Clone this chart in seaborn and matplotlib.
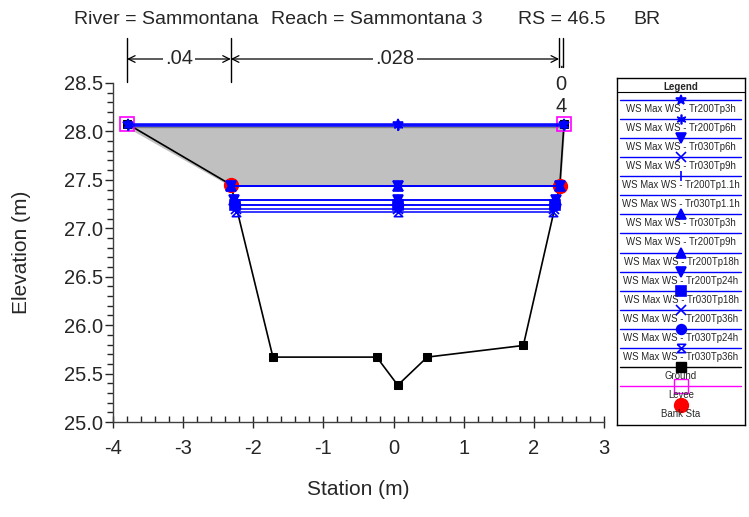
import numpy as np
import pandas as pd
import matplotlib
matplotlib.use("Agg")
import matplotlib.pyplot as plt
from matplotlib.path import Path
from matplotlib.ticker import MultipleLocator, FormatStrFormatter
import seaborn as sns

# data
ground_sta = [-3.80, -2.32, -1.72, -0.24, 0.06, 0.48, 1.85, 2.37, 2.43]
ground_elev = [28.08, 27.45, 25.67, 25.67, 25.38, 25.67, 25.79, 27.44, 28.08]

levee_sta = [-3.80, 2.43]
levee_elev = [28.08, 28.08]

bank_sta = [-2.32, 2.37]
bank_elev = [27.45, 27.44]

deck_sta = [-3.80, -2.32, 2.37, 2.43]
deck_high = [28.05, 28.05, 28.05, 28.05]
deck_low = [28.05, 27.44, 27.44, 28.05]

ws_names = ["Tr200Tp3h", "Tr200Tp6h", "Tr030Tp6h", "Tr030Tp9h", "Tr200Tp1.1h",
            "Tr030Tp1.1h", "Tr030Tp3h", "Tr200Tp9h", "Tr200Tp18h", "Tr200Tp24h",
            "Tr030Tp18h", "Tr200Tp36h", "Tr030Tp24h", "Tr030Tp36h"]
ws_elev = [28.08, 28.07, 27.44, 27.44, 28.06, 27.44, 27.44, 27.44,
           27.29, 27.29, 27.24, 27.20, 27.24, 27.17]
ws_left = [-3.78, -3.78, -2.32, -2.32, -3.78, -2.32, -2.32, -2.32,
           -2.27, -2.27, -2.26, -2.25, -2.26, -2.24]
ws_right = [2.43, 2.43, 2.37, 2.37, 2.43, 2.37, 2.37, 2.37,
            2.31, 2.31, 2.30, 2.29, 2.30, 2.28]
ws_mid = 0.06

hourglass = Path([(-1, 1), (1, 1), (-1, -1), (1, -1), (-1, 1)],
                 [Path.MOVETO, Path.LINETO, Path.LINETO, Path.LINETO, Path.LINETO])
ws_markers = ["*", (6, 2, 0), "v", "x", "|", "", "^", "", "^", "v", "s", "x", "o", hourglass]

n_values = [".04", ".028"]
n_breaks = [-3.80, -2.32, 2.36]
n_right = ".04"
n_right_sta = [2.36, 2.42]

title_parts = ["River = Sammontana", "Reach = Sammontana 3", "RS = 46.5", "BR"]
title_x = [74, 271, 518, 633]

sns.set_style("ticks")
plt.rcParams["font.family"] = ["Liberation Sans", "DejaVu Sans"]
plt.rcParams["axes.unicode_minus"] = False

W, H = 749, 517
fig = plt.figure(figsize=(W / 100, H / 100), dpi=100)
ax = fig.add_axes([113 / W, 1 - 422 / H, (604 - 113) / W, (422 - 83) / H])

BLUE = "#0000FF"

# bridge deck
ax.fill_between(deck_sta, deck_low, deck_high, color="#C0C0C0", zorder=1)
ax.plot([deck_sta[0], deck_sta[-1]], [deck_high[0], deck_high[-1]], color="#808080", lw=1, zorder=1)

# ground
gdf = pd.DataFrame({"station": ground_sta, "elev": ground_elev})
sns.lineplot(data=gdf, x="station", y="elev", sort=False, color="k", lw=1.2,
             marker="s", markersize=6, markeredgecolor="k", ax=ax, zorder=4)

# levees and bank stations
ax.plot(levee_sta, levee_elev, ls="none", marker="s", ms=10, mfc="none",
        mec="#FF00FF", mew=1.2, zorder=5)
ax.plot(bank_sta, bank_elev, ls="none", marker="o", ms=10, color="red", zorder=5)

# water surfaces
for name, z, xl, xr, mk in zip(ws_names, ws_elev, ws_left, ws_right, ws_markers):
    d = pd.DataFrame({"station": [xl, ws_mid, xr], "elev": [z, z, z]})
    kw = {}
    if mk != "":
        kw = dict(marker=mk, markersize=7, markeredgecolor=BLUE, markeredgewidth=1.2)
        if mk is hourglass:
            kw["markerfacecolor"] = "none"
            kw["markersize"] = 6
        else:
            kw["markerfacecolor"] = BLUE
    sns.lineplot(data=d, x="station", y="elev", sort=False, color=BLUE, lw=1.1,
                 ax=ax, zorder=6, **kw)

ax.set_xlim(-4, 3)
ax.set_ylim(25, 28.5)
sns.despine(ax=ax)
ax.xaxis.set_major_locator(MultipleLocator(1))
ax.xaxis.set_minor_locator(MultipleLocator(0.2))
ax.yaxis.set_major_locator(MultipleLocator(0.5))
ax.yaxis.set_minor_locator(MultipleLocator(0.1))
ax.yaxis.set_major_formatter(FormatStrFormatter("%.1f"))
ax.tick_params(axis="x", which="major", direction="inout", length=8, width=1, labelsize=14.5, pad=8)
ax.tick_params(axis="x", which="minor", direction="in", length=4, width=1)
ax.tick_params(axis="y", which="major", direction="out", length=6, width=1, labelsize=14.5, pad=1)
ax.tick_params(axis="y", which="minor", direction="out", length=4, width=1)
for s in ax.spines.values():
    s.set_linewidth(1)
    s.set_color("#404040")
ax.set_xlabel("Station (m)", fontsize=15, labelpad=16)
ax.set_ylabel("Elevation (m)", fontsize=15, labelpad=24)

# roughness (n value) annotations above the plot
tr = ax.get_xaxis_transform()
ax_y = lambda px: 1 + (83 - px) / (422 - 83)
for xs in n_breaks[:2]:
    ax.plot([xs, xs], [ax_y(38), ax_y(82)], color="k", lw=1, transform=tr, clip_on=False)
for xs in n_right_sta:
    ax.plot([xs, xs], [ax_y(38), ax_y(67)], color="k", lw=1, transform=tr, clip_on=False)
for i, nv in enumerate(n_values):
    x0, x1 = n_breaks[i], n_breaks[i + 1]
    ax.annotate("", xy=(x0, ax_y(59)), xytext=(x1, ax_y(59)), xycoords=tr, textcoords=tr,
                arrowprops=dict(arrowstyle="<->", lw=0.9, color="k", shrinkA=0, shrinkB=0,
                                mutation_scale=12), annotation_clip=False)
    ax.text((x0 + x1) / 2, ax_y(59), nv, transform=tr, ha="center", va="center",
            fontsize=14.5, bbox=dict(facecolor="white", edgecolor="none", pad=1.5), clip_on=False)
for ch, py in zip(n_right, [68.5, 90.5, 112.5]):
    ax.text(sum(n_right_sta) / 2, ax_y(py), ch, transform=tr, ha="center", va="baseline",
            fontsize=14.5, clip_on=False)

# title
for t, px in zip(title_parts, title_x):
    fig.text(px / W, 1 - 20 / H, t, ha="left", va="center", fontsize=14)

# custom legend box
L, T, R, B = 617, 78, 745, 425
lax = fig.add_axes([L / W, 1 - B / H, (R - L) / W, (B - T) / H])
lax.set_xlim(0, R - L)
lax.set_ylim(B - T, 0)
lax.set_xticks([])
lax.set_yticks([])
for s in lax.spines.values():
    s.set_linewidth(1)
    s.set_color("k")
lax.text((R - L) / 2, 8.5, "Legend", ha="center", va="center", fontsize=7, fontweight="bold")
lax.plot([0, R - L], [14, 14], color="k", lw=0.8)
cx = 64
step = 19.07
leg_fs = 6.9
for i, (name, mk) in enumerate(zip(ws_names, ws_markers)):
    yy = 22 + i * step
    lax.plot([3, 124], [yy, yy], color=BLUE, lw=1)
    if mk != "":
        mfc = "none" if mk is hourglass else BLUE
        lax.plot([cx], [yy], marker=mk, ms=7 if mk is not hourglass else 6, mec=BLUE, mfc=mfc, mew=1.2)
    lax.text(cx, yy + 9, "WS Max WS - " + name, ha="center", va="center", fontsize=leg_fs)
yy = 22 + 14 * step
lax.plot([3, 124], [yy, yy], color="k", lw=1)
lax.plot([cx], [yy], marker="s", ms=7, color="k")
lax.text(cx, yy + 9, "Ground", ha="center", va="center", fontsize=leg_fs)
yy = 22 + 15 * step
lax.plot([3, 124], [yy, yy], color="#FF00FF", lw=1)
lax.plot([cx], [yy], marker="s", ms=10, mfc="none", mec="#FF00FF", mew=1)
lax.text(cx, yy + 9, "Levee", ha="center", va="center", fontsize=leg_fs)
yy = 22 + 16 * step
lax.plot([cx], [yy], marker="o", ms=10, color="red")
lax.text(cx, yy + 9, "Bank Sta", ha="center", va="center", fontsize=leg_fs)

fig.savefig("out.png", dpi=100)
